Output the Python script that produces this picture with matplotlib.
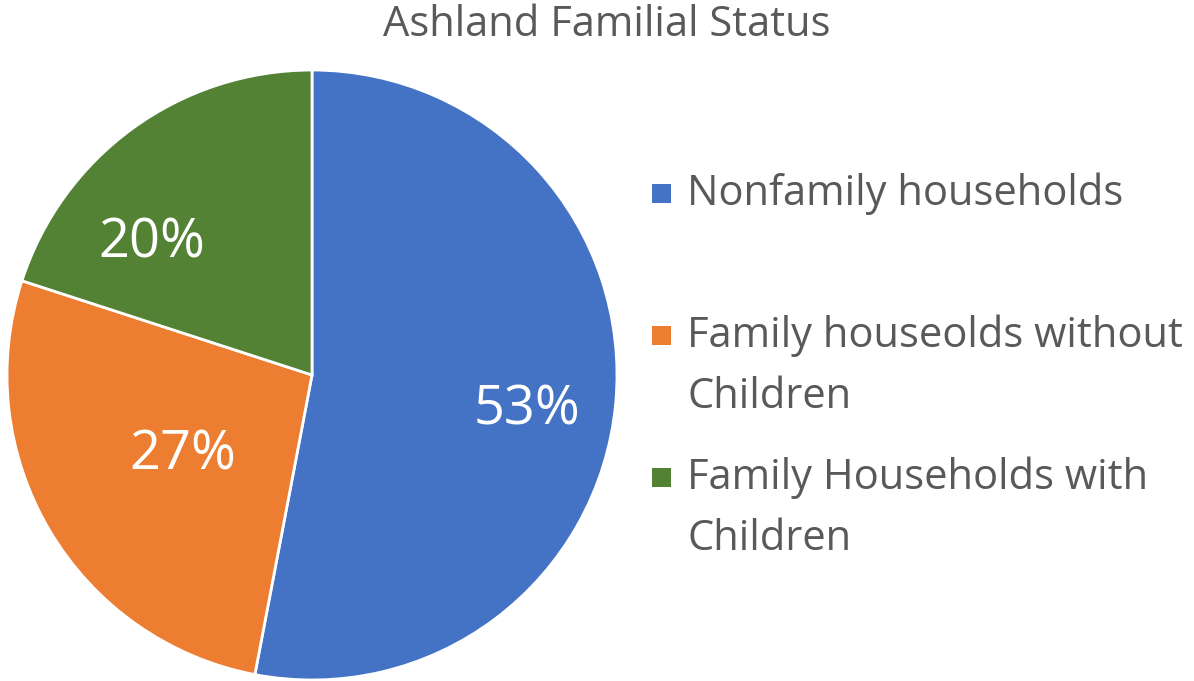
import matplotlib.pyplot as plt
from matplotlib.patches import Rectangle

plt.rcParams['font.family'] = ['Open Sans', 'DejaVu Sans']

labels = ['Nonfamily households', 'Family houseolds without\nChildren', 'Family Households with\nChildren']
shares = [53, 27, 20]
colors = ['#4472C4', '#ED7D31', '#548235']
# where the data labels sit (pie radius units), Excel "best fit"
label_pos = [(0.705, -0.115), (-0.423, -0.262), (-0.525, 0.433)]

fig = plt.figure(figsize=(11.94, 6.81), dpi=100)
ax = fig.add_axes([0.00586, 0.00147, 0.5109, 0.8957])

wedges, texts, autotexts = ax.pie(shares, colors=colors, startangle=90, counterclock=False,
                                  autopct=lambda p: '%d%%' % round(p),
                                  wedgeprops=dict(edgecolor='white', linewidth=2),
                                  textprops=dict(color='white', fontsize=39))
for t, pos in zip(autotexts, label_pos):
    t.set_position(pos)
ax.set_xlim(-1, 1)
ax.set_ylim(-1, 1)
ax.set_aspect('equal')

fig.text(0.508, 1 - 36 / 681, 'Ashland Familial Status', ha='center', va='baseline',
         fontsize=30, color='#595959')

# legend drawn by hand: Excel spaces entries evenly, marker on first line
W, H = 1194, 681
for i, (lab, col) in enumerate(zip(labels, colors)):
    base = 205 + i * 142
    fig.patches.append(Rectangle((652 / W, 1 - (base - 2) / H), 19 / W, 19 / H,
                                 facecolor=col, edgecolor='none',
                                 transform=fig.transFigure, figure=fig))
    for k, line in enumerate(lab.split('\n')):
        fig.text(687 / W, 1 - (base + k * 61) / H, line, ha='left', va='baseline',
                 fontsize=30, color='#595959')

fig.savefig('out.png', dpi=100)
